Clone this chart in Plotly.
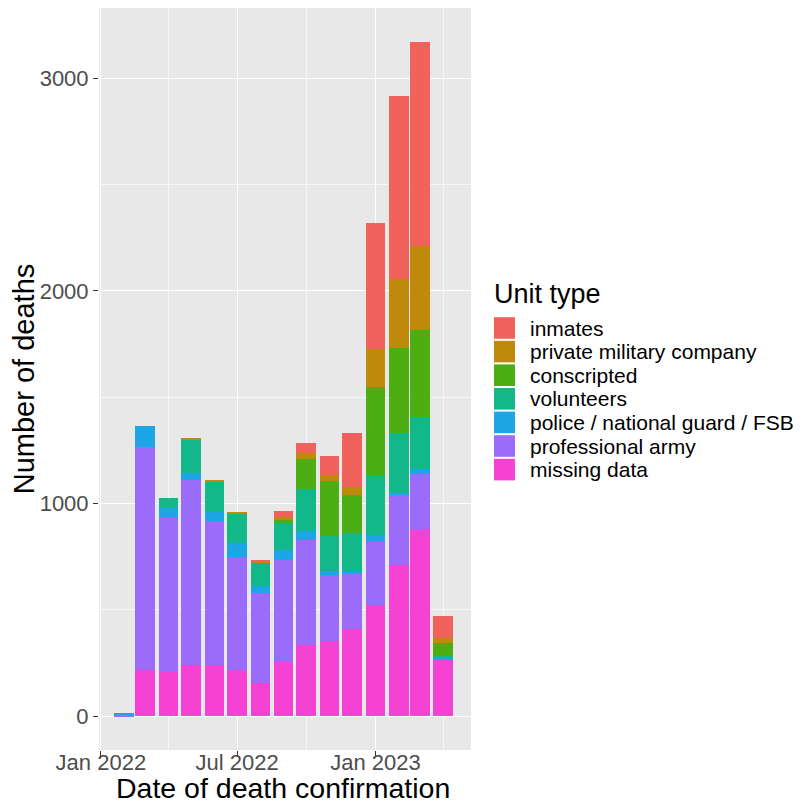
import plotly.graph_objects as go

# ---- data ----
months = ["2022-02-01", "2022-03-01", "2022-04-01", "2022-05-01", "2022-06-01",
          "2022-07-01", "2022-08-01", "2022-09-01", "2022-10-01", "2022-11-01",
          "2022-12-01", "2023-01-01", "2023-02-01", "2023-03-01", "2023-04-01"]

missing_data = [0, 218, 209, 241, 241, 218, 156, 256, 335, 356, 410, 522, 712, 876, 265]
professional_army = [9, 1047, 722, 870, 678, 533, 423, 479, 493, 309, 258, 296, 329, 264, 3]
police_ng_fsb = [6, 100, 47, 32, 43, 66, 36, 48, 42, 16, 16, 35, 8, 22, 7]
volunteers = [0, 0, 50, 160, 144, 136, 108, 125, 200, 167, 177, 282, 285, 247, 9]
conscripted = [0, 0, 0, 0, 0, 0, 0, 15, 139, 260, 180, 415, 399, 407, 60]
private_military_company = [0, 0, 0, 3, 2, 7, 7, 13, 31, 27, 39, 177, 324, 395, 23]
inmates = [0, 0, 0, 0, 0, 0, 5, 30, 44, 89, 251, 591, 860, 960, 105]

# stacking order: bottom first
series_names = ["missing data", "professional army", "police / national guard / FSB",
                "volunteers", "conscripted", "private military company", "inmates"]
series_values = [missing_data, professional_army, police_ng_fsb, volunteers,
                 conscripted, private_military_company, inmates]
series_colors = ["#F542D3", "#9B6BFA", "#1CA6E6", "#13B88A", "#4CAE12", "#BF8A0C", "#F2625D"]

y_ticks = [0, 1000, 2000, 3000]
x_title = "Date of death confirmation"
y_title = "Number of deaths"
legend_title = "Unit type"

# ---- layout constants (page pixels; the page body has an 8px margin) ----
OFF = 8
W, H = 805 - OFF, 804 - OFF
L, R, T, B = 99 - OFF, 471 - OFF, 8 - OFF, 750 - OFF
FONT = "Liberation Sans, Arial, Helvetica, sans-serif"

DAY_MS = 86400000
bar_width = 26 * DAY_MS

fig = go.Figure()
for name, vals, col in zip(series_names, series_values, series_colors):
    fig.add_trace(go.Bar(
        x=months, y=vals, name=name, width=bar_width,
        marker=dict(color=col, line=dict(width=0)),
        showlegend=False,
    ))

def px_x(p):
    return (p - OFF - L) / (R - L)

def px_y(p):
    return (B - (p - OFF)) / (B - T)

shapes = []
annotations = []

# x axis title
annotations.append(dict(
    text=x_title, xref="paper", yref="paper",
    x=px_x(283), y=px_y(788), xanchor="center", yanchor="middle",
    showarrow=False, font=dict(family=FONT, size=28.5, color="#000000"),
))

# legend title
annotations.append(dict(
    text=legend_title, xref="paper", yref="paper",
    x=px_x(492), y=px_y(294), xanchor="left", yanchor="middle",
    showarrow=False, font=dict(family=FONT, size=27, color="#000000"),
))
# legend entries (top = last stacked series)
legend_order = list(zip(series_names, series_colors))[::-1]
for i, (name, col) in enumerate(legend_order):
    cy = 328 + i * 23.6
    shapes.append(dict(
        type="rect", xref="paper", yref="paper",
        x0=px_x(494), x1=px_x(515), y0=px_y(cy + 10.8), y1=px_y(cy - 10.8),
        fillcolor=col, line=dict(width=0), layer="above",
    ))
    annotations.append(dict(
        text=name, xref="paper", yref="paper",
        x=px_x(528), y=px_y(cy), xanchor="left", yanchor="middle",
        showarrow=False, font=dict(family=FONT, size=21, color="#000000"),
    ))

fig.update_layout(
    width=W, height=H,
    margin=dict(l=L, r=W - R, t=T, b=H - B, autoexpand=False),
    paper_bgcolor="#FFFFFF",
    plot_bgcolor="#E8E8E8",
    barmode="stack",
    bargap=0,
    showlegend=False,
    shapes=shapes,
    annotations=annotations,
    font=dict(family=FONT),
    xaxis=dict(
        type="date",
        range=["2021-12-29T12:00:00", "2023-05-08"],
        tick0="2022-01-01", dtick="M6", tickformat="%b %Y",
        ticks="outside", ticklen=5, tickwidth=1.2, tickcolor="#333333",
        ticklabelstandoff=-12,
        tickfont=dict(family=FONT, size=22, color="#4D4D4D"),
        showgrid=True, gridcolor="#FFFFFF", gridwidth=1.4,
        minor=dict(dtick="M3", tick0="2022-01-01", showgrid=True,
                   gridcolor="#F7F7F7", gridwidth=0.7, ticks=""),
        zeroline=False, showline=False,
        automargin=False,
    ),
    yaxis=dict(
        range=[-158, 3329],
        tickvals=y_ticks, ticktext=[str(v) for v in y_ticks],
        ticks="outside", ticklen=5, tickwidth=1.2, tickcolor="#333333",
        tickfont=dict(family=FONT, size=22, color="#4D4D4D"),
        showgrid=True, gridcolor="#FFFFFF", gridwidth=1.4,
        minor=dict(dtick=500, tick0=0, showgrid=True,
                   gridcolor="#F7F7F7", gridwidth=0.7, ticks=""),
        zeroline=False, showline=False,
        title=dict(text=y_title,
                   font=dict(family=FONT, size=29, color="#000000"), standoff=1),
        automargin=False,
    ),
)

fig.write_html("out.html")
